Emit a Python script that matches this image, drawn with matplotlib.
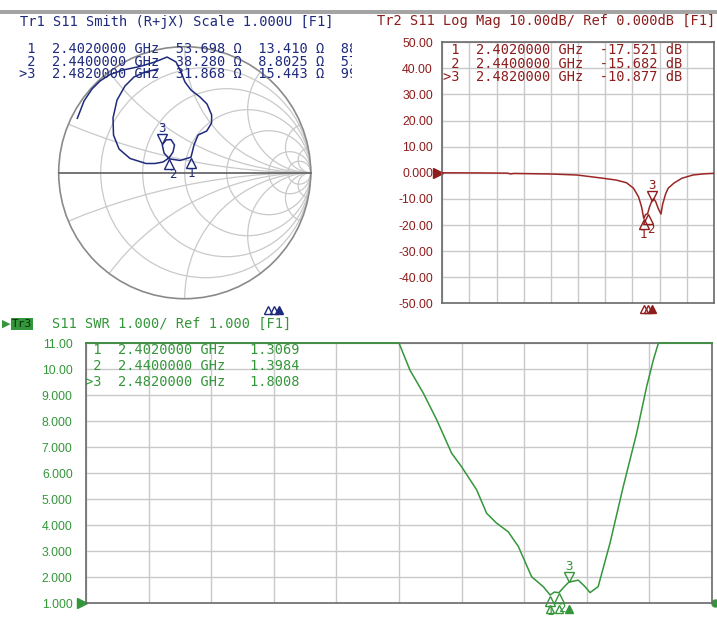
import numpy as np
import matplotlib
matplotlib.use("Agg")
import matplotlib.pyplot as plt
from matplotlib.patches import Circle, Rectangle
from matplotlib.transforms import offset_copy, blended_transform_factory, Bbox

W, H = 717, 618

# sweep range (GHz)
f_start, f_stop = 0.4, 3.1

# markers
mk_id = [1, 2, 3]
mk_tag = [" 1", " 2", ">3"]
mk_f = [2.402, 2.440, 2.482]
mk_r = [53.698, 38.280, 31.868]
mk_x = [13.410, 8.8025, 15.443]
mk_l = ["888.53 pH", "574.16 pH", "990.27 pH"]
mk_db = [-17.521, -15.682, -10.877]
mk_swr = [1.3069, 1.3984, 1.8008]

# Tr2 log mag trace
lm_f = [0.40, 0.80, 1.05, 1.08, 1.11, 1.47, 1.74, 2.00, 2.13, 2.23, 2.30, 2.35, 2.38,
        2.402, 2.42, 2.44, 2.46, 2.482, 2.50, 2.52, 2.545, 2.573, 2.59, 2.62, 2.645,
        2.70, 2.78, 2.89, 3.00, 3.10]
lm_db = [0.0, -0.05, -0.15, -0.45, -0.25, -0.45, -0.85, -2.1, -2.8, -3.8, -5.9, -9.2, -13.0,
         -17.52, -16.0, -15.68, -13.0, -10.88, -9.9, -11.0, -13.6, -15.8, -12.0, -8.0, -5.9,
         -4.0, -2.1, -0.85, -0.4, -0.2]

# Tr3 SWR trace (clipped at 11 on screen)
swr_f = [0.40, 1.75, 1.797, 1.855, 1.913, 1.977, 2.02, 2.085, 2.128, 2.171, 2.221, 2.265,
         2.322, 2.372, 2.402, 2.42, 2.44, 2.46, 2.482, 2.523, 2.55, 2.574, 2.609, 2.66,
         2.717, 2.775, 2.818, 2.847, 2.869, 3.10]
swr_v = [11, 11, 9.96, 9.07, 8.04, 6.76, 6.24, 5.35, 4.45, 4.07, 3.74, 3.17,
         2.01, 1.63, 1.307, 1.42, 1.398, 1.6, 1.80, 1.88, 1.65, 1.40, 1.63, 3.3,
         5.47, 7.53, 9.32, 10.35, 11, 11]

# Tr1 smith trace (reflection coefficient)
sm_re = [-0.852, -0.799, -0.736, -0.672, -0.593, -0.490, -0.355, -0.236, -0.140, -0.069,
         -0.029, 0.002, 0.050, 0.121, 0.177, 0.214, 0.213, 0.175, 0.106, 0.074, 0.050,
         -0.037, -0.122, -0.164, -0.178, -0.148, -0.109, -0.081, -0.093, -0.125, -0.172,
         -0.236, -0.307, -0.434, -0.521, -0.565, -0.569, -0.537, -0.474, -0.402, -0.315, -0.212]
sm_im = [0.432, 0.569, 0.664, 0.728, 0.779, 0.815, 0.843, 0.879, 0.918, 0.879,
         0.799, 0.720, 0.656, 0.601, 0.545, 0.458, 0.394, 0.331, 0.299, 0.220, 0.123,
         0.097, 0.110, 0.156, 0.222, 0.260, 0.263, 0.220, 0.164, 0.117, 0.085,
         0.073, 0.073, 0.113, 0.188, 0.299, 0.434, 0.577, 0.688, 0.760, 0.799, 0.823]

smith_r = [0.2, 0.5, 1, 2, 5, 10]
smith_x = [0.2, 0.5, 1, 2, 5, 10]

lm_ticks = [50, 40, 30, 20, 10, 0, -10, -20, -30, -40, -50]
lm_labels = ["50.00", "40.00", "30.00", "20.00", "10.00", "0.000",
             "-10.00", "-20.00", "-30.00", "-40.00", "-50.00"]
swr_ticks = [11, 10, 9, 8, 7, 6, 5, 4, 3, 2, 1]
swr_labels = ["11.00", "10.00", "9.000", "8.000", "7.000", "6.000",
              "5.000", "4.000", "3.000", "2.000", "1.000"]

BLUE = '#1e2a7c'
RED = '#8e1c1c'
RED_TR = '#9c2626'
GREEN = '#34963a'
GRID = '#c9c9c9'
FRAME = '#6a6a6a'
MONO = 'DejaVu Sans Mono'
FS = 9.8
LBL = 'Liberation Sans'


def fmt5(v):
    n = len(str(int(abs(v))))
    return f"{v:.{5 - n}f}"


fig = plt.figure(figsize=(W / 100, H / 100), dpi=100)
fig.patch.set_facecolor('white')


def ax_px(l, t, r, b):
    return fig.add_axes([l / W, 1 - b / H, (r - l) / W, (b - t) / H])


def txt(x, y, s, **kw):
    kw.setdefault('family', MONO)
    kw.setdefault('fontsize', FS)
    kw.setdefault('va', 'center')
    return fig.text(x / W, 1 - y / H, s, **kw)


def put_markers(ax, xs, ys, color):
    for i, x, y in zip(mk_id, xs, ys):
        sgn = 1 if i == 3 else -1
        tr = offset_copy(ax.transData, fig=fig, x=0, y=sgn * 5.5, units='dots')
        ax.plot([x], [y], marker='v' if i == 3 else '^', ms=7, mfc='none', mec=color,
                mew=1.0, transform=tr, clip_on=False, zorder=5)
        dx = 3 if i == 2 else 0
        ax.annotate(str(i), (x, y), xytext=(dx, sgn * 16), textcoords='offset pixels',
                    ha='center', va='center', color=color, fontsize=9, family=MONO,
                    annotation_clip=False)


def freq_ticks(ax, color):
    bt = blended_transform_factory(ax.transData, ax.transAxes)
    tr = offset_copy(bt, fig=fig, x=0, y=-6, units='dots')
    ax.plot(mk_f[:2], [0, 0], '^', ms=6, mfc='none', mec=color, mew=1.0,
            transform=tr, clip_on=False)
    ax.plot(mk_f[2:], [0], '^', ms=6, color=color, transform=tr, clip_on=False)


# grey bar on top of the screen
fig.add_artist(Rectangle((0, 1 - 14 / H), 1, 4 / H, transform=fig.transFigure,
                         color='#a4a4a4', lw=0))

# ---------------- Tr1 Smith ----------------
cx, cy, R0 = 184.7, 172.7, 126
lim = 1.04
sax = ax_px(cx - R0 * lim, cy - R0 * lim, cx + R0 * lim, cy + R0 * lim)
sax.set_xlim(-lim, lim)
sax.set_ylim(-lim, lim)
sax.axis('off')
unit = Circle((0, 0), 1, fill=False, ec='#8a8a8a', lw=1.2, zorder=2)
sax.add_patch(unit)
for r in smith_r:
    sax.add_patch(Circle((r / (1 + r), 0), 1 / (1 + r), fill=False, ec=GRID, lw=0.9))
for x in smith_x:
    for s in (1, -1):
        c = Circle((1, s / x), 1 / x, fill=False, ec=GRID, lw=0.9)
        sax.add_patch(c)
        c.set_clip_path(unit)
sax.plot([-1, 1], [0, 0], color='#6a6a6a', lw=1.3)
sax.plot(sm_re, sm_im, color=BLUE, lw=1.1, zorder=4)

z = np.array(mk_r) + 1j * np.array(mk_x)
g = (z - 50) / (z + 50)
put_markers(sax, g.real, g.imag, BLUE)

# sweep indicator under the smith chart
fax = ax_px(0, 296, 362, 304)
fax.set_xlim(f_start, f_stop)
fax.set_ylim(0, 1)
fax.axis('off')
freq_ticks(fax, BLUE)

txt(20, 22, "Tr1 S11 Smith (R+jX) Scale 1.000U [F1]", color=BLUE)
# the inductance column is cut by the panel edge
clip = Bbox.from_extents(0, 0, 352, H)
for k, yy in enumerate([49, 61.5, 74]):
    s = f"{mk_tag[k]}  {mk_f[k]:.7f} GHz  {fmt5(mk_r[k]):>6} \u03a9  {fmt5(mk_x[k]):>6} \u03a9  {mk_l[k][:2]}"
    t = txt(19.2, yy, s, color=BLUE)
    t.set_clip_box(clip)
    t.set_clip_on(True)

# ---------------- Tr2 Log Mag ----------------
lax = ax_px(442.3, 42.3, 714, 303.3)
lax.set_xlim(f_start, f_stop)
lax.set_ylim(-50, 50)
lax.set_xticks(np.linspace(f_start, f_stop, 11))
lax.set_xticklabels([])
lax.set_yticks(lm_ticks)
lax.set_yticklabels(lm_labels, family=LBL, fontsize=8.8, color=RED)
lax.tick_params(length=0)
lax.tick_params(axis='y', pad=6.7)
lax.grid(True, color=GRID, lw=1.0)
for sp in lax.spines.values():
    sp.set_color(FRAME)
    sp.set_linewidth(1.2)
lax.plot(lm_f, lm_db, color=RED_TR, lw=1.1, zorder=3)
put_markers(lax, mk_f, mk_db, RED)
freq_ticks(lax, RED)
ref_tr = offset_copy(blended_transform_factory(lax.transAxes, lax.transData),
                     fig=fig, x=-4.5, y=0, units='dots')
lax.plot([0], [0], '>', ms=7, color=RED, transform=ref_tr, clip_on=False)

txt(377.3, 21, "Tr2 S11 Log Mag 10.00dB/ Ref 0.000dB [F1]", color=RED)
for k, yy in enumerate([50, 63.5, 77]):
    s = f"{mk_tag[k]}  {mk_f[k]:.7f} GHz  {fmt5(mk_db[k]):>7} dB"
    txt(442.7, yy, s, color=RED)

# ---------------- Tr3 SWR ----------------
wax = ax_px(86, 343, 712, 603)
wax.set_xlim(f_start, f_stop)
wax.set_ylim(1, 11)
wax.set_xticks(np.linspace(f_start, f_stop, 11))
wax.set_xticklabels([])
wax.set_yticks(swr_ticks)
wax.set_yticklabels(swr_labels, family=LBL, fontsize=8.8, color=GREEN)
wax.tick_params(length=0)
wax.tick_params(axis='y', pad=9.6)
wax.grid(True, color=GRID, lw=1.0)
for sp in wax.spines.values():
    sp.set_color(FRAME)
    sp.set_linewidth(1.2)
wax.plot(swr_f, swr_v, color=GREEN, lw=1.1, zorder=3, clip_on=False)
put_markers(wax, mk_f, mk_swr, GREEN)
freq_ticks(wax, GREEN)
ref_tr = offset_copy(blended_transform_factory(wax.transAxes, wax.transData),
                     fig=fig, x=-4.5, y=0, units='dots')
wax.plot([0], [1], '>', ms=7, color=GREEN, transform=ref_tr, clip_on=False)
end_tr = offset_copy(blended_transform_factory(wax.transAxes, wax.transData),
                     fig=fig, x=3, y=0, units='dots')
wax.plot([1], [1], 'o', ms=5, color=GREEN, transform=end_tr, clip_on=False)

txt(2, 324, "\u25b6", family='DejaVu Sans', fontsize=8, color=GREEN)
txt(12, 324, "Tr3", fontsize=8, color='#0c2a0c',
    bbox=dict(boxstyle='square,pad=0.08', fc=GREEN, ec='none'))
txt(52, 324, "S11 SWR 1.000/ Ref 1.000 [F1]", color=GREEN)
for k, yy in enumerate([350, 366, 381.7]):
    s = f"{mk_tag[k]}  {mk_f[k]:.7f} GHz  {fmt5(mk_swr[k]):>7}"
    txt(85, yy, s, color=GREEN)

fig.savefig("out.png", dpi=100, facecolor='white')
